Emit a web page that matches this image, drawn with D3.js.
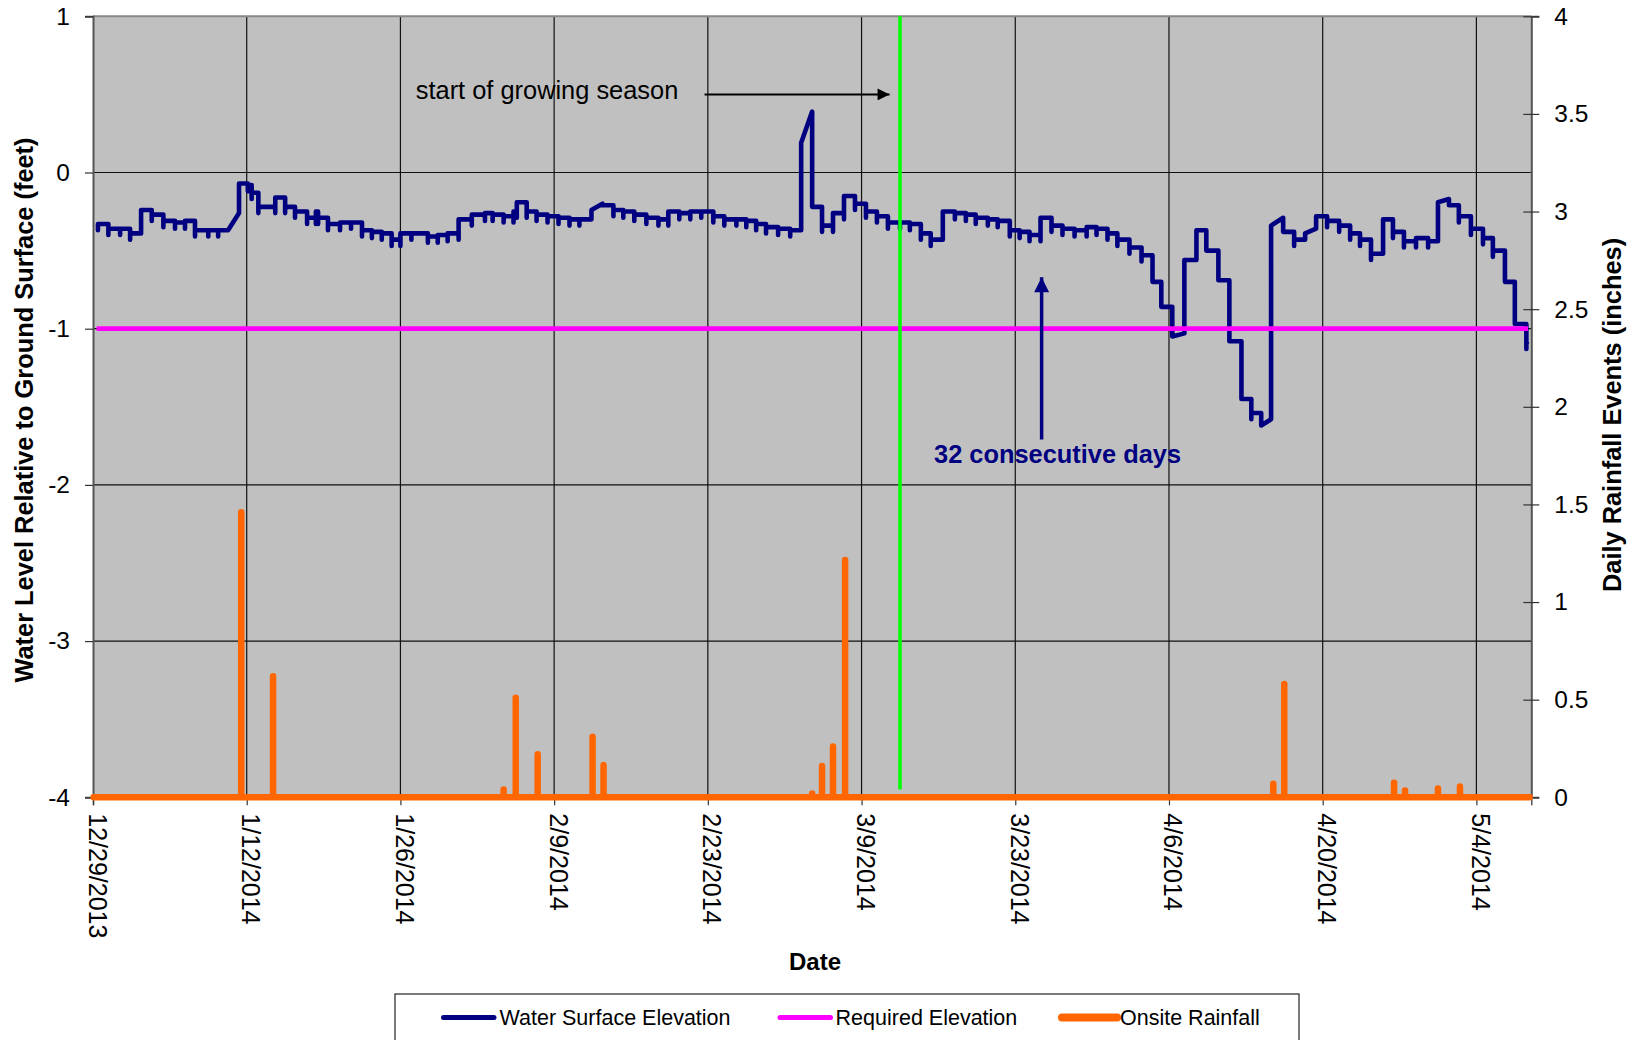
<!DOCTYPE html>
<html><head><meta charset="utf-8">
<script src="https://cdn.jsdelivr.net/npm/d3@7"></script>
<style>
body{margin:0;background:#fff;}
svg{display:block;}
text{font-family:"Liberation Sans",Arial,sans-serif;}
</style>
</head><body>
<svg id="chart" width="1637" height="1040"></svg>
<script>
// ---------------- DATA ----------------
const startDate = "12/29/2013";
const endDate = "5/9/2014";
const xTickLabels = ["12/29/2013","1/12/2014","1/26/2014","2/9/2014","2/23/2014","3/9/2014","3/23/2014","4/6/2014","4/20/2014","5/4/2014"];
const leftTicks = [1,0,-1,-2,-3,-4];
const rightTicks = [0,0.5,1,1.5,2,2.5,3,3.5,4];

// water surface readings: [days after start, level (ft), optional level reached by next reading (ramp)]
const waterReadings = [
 [0.45,-0.33],[1.4,-0.36],[2.47,-0.36],[3.38,-0.39],[4.38,-0.24],[5.35,-0.27],[6.41,-0.31],[7.47,-0.32],
 [8.38,-0.31],[9.29,-0.37],[10.5,-0.37],[11.4,-0.37],[12.3,-0.37,-0.26],[13.3,-0.07],[14.1,-0.08],
 [14.45,-0.13],[15.06,-0.22],[16.6,-0.16],[17.5,-0.22],[18.4,-0.25],[19.5,-0.29],[20.3,-0.25],[20.5,-0.29],
 [21.4,-0.33],[22.5,-0.32],[23.5,-0.32],[24.5,-0.37],[25.4,-0.38],[26.3,-0.39],[27.2,-0.43],[28.0,-0.39],
 [29.0,-0.39],[30.5,-0.41],[31.4,-0.40],[32.3,-0.39],[33.3,-0.30],[34.5,-0.27],[35.7,-0.26],[36.4,-0.27],
 [37.4,-0.28],[38.3,-0.25],[38.6,-0.19],[39.5,-0.25],[40.4,-0.27],[41.4,-0.28],[42.4,-0.29],[43.4,-0.30],
 [44.3,-0.30],[45.4,-0.24,-0.2],[46.4,-0.21],[47.4,-0.24],[48.3,-0.25],[49.3,-0.27],[50.4,-0.29],[51.5,-0.30],
 [52.4,-0.25],[53.4,-0.26],[54.4,-0.25],[55.4,-0.25],[56.5,-0.28],[57.5,-0.30],[58.6,-0.30],[59.5,-0.31],
 [60.4,-0.33],[61.3,-0.35],[62.4,-0.36],[63.5,-0.37],[64.5,0.19,0.39],[65.5,-0.22],[66.4,-0.34],[67.4,-0.26],
 [68.4,-0.15],[69.4,-0.20],[70.4,-0.25],[71.4,-0.28],[72.4,-0.32],[73.5,-0.32],[74.4,-0.33],[75.4,-0.39],
 [76.3,-0.43],[77.4,-0.25],[78.5,-0.26],[79.5,-0.27],[80.4,-0.29],[81.5,-0.30],[82.4,-0.31],[83.5,-0.37],
 [84.4,-0.38],[85.3,-0.40],[86.3,-0.29],[87.3,-0.34],[88.3,-0.36],[89.4,-0.37],[90.5,-0.35],[91.4,-0.36],
 [92.4,-0.39],[93.3,-0.43],[94.4,-0.48],[95.5,-0.53],[96.5,-0.70],[97.3,-0.86],[98.3,-1.05,-1.03],[99.4,-0.56],
 [100.5,-0.37],[101.4,-0.50],[102.5,-0.69],[103.5,-1.08],[104.6,-1.45],[105.5,-1.54],[106.4,-1.62,-1.58],
 [107.3,-0.34,-0.29],[108.4,-0.38],[109.4,-0.43],[110.4,-0.39,-0.36],[111.4,-0.28],[112.4,-0.31],[113.5,-0.34],
 [114.5,-0.39],[115.4,-0.43],[116.4,-0.52],[117.5,-0.30],[118.4,-0.38],[119.4,-0.44],[120.5,-0.42],[121.6,-0.44],
 [122.5,-0.19,-0.17],[123.5,-0.21],[124.4,-0.28],[125.5,-0.36],[126.6,-0.42],[127.5,-0.50],[128.6,-0.70],
 [129.5,-0.97],[130.55,-1.09]
];
const waterEndDay = 130.6;

const requiredElevation = -1;
const requiredSpan = [0.32, 130.7];

// rainfall events: [days after start, inches]
const rainEvents = [
 [13.5,1.46],[16.4,0.62],[37.4,0.04],[38.5,0.51],[40.5,0.22],[45.5,0.31],[46.5,0.165],
 [65.5,0.02],[66.4,0.16],[67.4,0.26],[68.5,1.215],[107.5,0.07],[108.5,0.58],
 [118.5,0.075],[119.5,0.035],[122.5,0.045],[124.5,0.055]
];
const rainSpan = [0.05, 130.85];

const growingSeasonDay = 73.5;
const legendItems = [
 {label:"Water Surface Elevation", color:"#000080", w:5},
 {label:"Required Elevation", color:"#FF00FF", w:5},
 {label:"Onsite Rainfall", color:"#FF6600", w:8}
];

// ---------------- CHART ----------------
const parse = d3.utcParse("%m/%d/%Y");
const t0 = parse(startDate), t1 = parse(endDate);
const dayToDate = d => new Date(t0.getTime() + d*864e5);

const L = 93, R = 1531.3, T = 16.3, B = 797.3;
const x = d3.scaleUtc().domain([t0,t1]).range([L,R]);
const yL = d3.scaleLinear().domain([-4,1]).range([B,T]);
const yR = d3.scaleLinear().domain([0,4]).range([B,T]);
const xd = d => x(dayToDate(d));

const svg = d3.select("#chart");
const FONT = "Liberation Sans, Arial, sans-serif";

svg.append("rect").attr("x",L).attr("y",T).attr("width",R-L).attr("height",B-T).attr("fill","#C0C0C0");

// gridlines
const tickDates = xTickLabels.map(parse);
svg.append("g").selectAll("line").data(leftTicks.filter(v=>v>-4 && v<1)).join("line")
  .attr("x1",L).attr("x2",R).attr("y1",d=>yL(d)).attr("y2",d=>yL(d))
  .attr("stroke","#111").attr("stroke-width",1.2);
svg.append("g").selectAll("line").data(tickDates.slice(1)).join("line")
  .attr("x1",d=>x(d)).attr("x2",d=>x(d)).attr("y1",T).attr("y2",B)
  .attr("stroke","#111").attr("stroke-width",1.2);

// top border
svg.append("line").attr("x1",L).attr("x2",R).attr("y1",T).attr("y2",T).attr("stroke","#888").attr("stroke-width",2);

// left axis
const axL = svg.append("g").attr("transform",`translate(${L},0)`)
  .call(d3.axisLeft(yL).tickValues(leftTicks).tickSize(8).tickPadding(15).tickFormat(d=>String(d)));
axL.select(".domain").attr("stroke","#555").attr("stroke-width",2);
axL.selectAll(".tick line").attr("stroke","#333").attr("stroke-width",1.2);
axL.selectAll(".tick text").attr("font-size",24.5).attr("fill","#000").attr("font-family",FONT);

// right axis
const axR = svg.append("g").attr("transform",`translate(${R},0)`)
  .call(d3.axisRight(yR).tickValues(rightTicks).tickSize(8).tickPadding(15).tickFormat(d=>String(d)));
axR.select(".domain").attr("stroke","#555").attr("stroke-width",2);
axR.selectAll(".tick line").attr("x1",-8).attr("stroke","#333").attr("stroke-width",1.2);
axR.selectAll(".tick text").attr("font-size",24.5).attr("fill","#000").attr("font-family",FONT);

// bottom axis
const axB = svg.append("g").attr("transform",`translate(0,${B})`)
  .call(d3.axisBottom(x).tickValues(tickDates).tickSize(8).tickFormat((d,i)=>xTickLabels[i]));
axB.select(".domain").attr("stroke","#555").attr("stroke-width",1.5);
axB.selectAll(".tick line").attr("stroke","#333").attr("stroke-width",1.2);
axB.selectAll(".tick text")
  .attr("font-size",25).attr("fill","#000").attr("font-family",FONT)
  .attr("text-anchor","start").attr("dy",null).attr("y",null)
  .attr("transform","translate(4,16) rotate(90)").attr("dominant-baseline","central");

// water surface path
const DIP = 0.04;
const wPts = [];
waterReadings.forEach((r,i)=>{
  const [d,v,ramp] = r;
  const next = waterReadings[i+1];
  const dEnd = next ? next[0] : waterEndDay;
  if (i>0) {
    const prev = wPts[wPts.length-1][1];
    const prevRamp = waterReadings[i-1][2] !== undefined;
    if (!prevRamp && ramp===undefined && Math.abs(prev-v) < 0.13) {
      wPts.push([d, Math.min(prev,v)-DIP]);
    }
  } else {
    wPts.push([d, v-DIP]);
  }
  wPts.push([d,v]);
  wPts.push([dEnd, ramp!==undefined ? ramp : v]);
});
const lineL = d3.line().x(p=>xd(p[0])).y(p=>yL(p[1]));
svg.append("path").attr("d",lineL(wPts)).attr("fill","none").attr("stroke","#000080")
  .attr("stroke-width",4.6).attr("stroke-linejoin","round").attr("stroke-linecap","round");

// required elevation (magenta)
svg.append("path").attr("d",lineL([[requiredSpan[0],requiredElevation],[requiredSpan[1],requiredElevation]]))
  .attr("fill","none").attr("stroke","#FF00FF").attr("stroke-width",4.8);

// rainfall (secondary axis)
const rPts = [[rainSpan[0],0]];
rainEvents.forEach(([d,v])=>{ rPts.push([d,0],[d,v],[d,0]); });
rPts.push([rainSpan[1],0]);
svg.append("path").attr("d",d3.line().x(p=>xd(p[0])).y(p=>yR(p[1]))(rPts))
  .attr("fill","none").attr("stroke","#FF6600").attr("stroke-width",6.5)
  .attr("stroke-linejoin","round").attr("stroke-linecap","round");

// growing season line
svg.append("line").attr("x1",xd(growingSeasonDay)).attr("x2",xd(growingSeasonDay))
  .attr("y1",yL(1)).attr("y2",yL(-3.95)).attr("stroke","#00FF00").attr("stroke-width",3.5);

// annotations
const defs = svg.append("defs");
defs.append("marker").attr("id","ahBlack").attr("viewBox","0 0 10 10").attr("refX",10).attr("refY",5)
  .attr("markerWidth",14).attr("markerHeight",12).attr("markerUnits","userSpaceOnUse").attr("orient","auto")
  .append("path").attr("d","M0,0L10,5L0,10Z").attr("fill","#000");
defs.append("marker").attr("id","ahNavy").attr("viewBox","0 0 10 10").attr("refX",10).attr("refY",5)
  .attr("markerWidth",17).attr("markerHeight",15).attr("markerUnits","userSpaceOnUse").attr("orient","auto")
  .append("path").attr("d","M0,0L10,5L0,10Z").attr("fill","#000080");

svg.append("text").attr("x",xd(29.4)).attr("y",yL(0.47)).attr("font-size",25.4).attr("fill","#000")
  .text("start of growing season");
svg.append("line").attr("x1",xd(55.7)).attr("x2",xd(72.55)).attr("y1",yL(0.5)).attr("y2",yL(0.5))
  .attr("stroke","#000").attr("stroke-width",2).attr("marker-end","url(#ahBlack)");

svg.append("line").attr("x1",xd(86.4)).attr("x2",xd(86.4)).attr("y1",yL(-1.71)).attr("y2",yL(-0.67))
  .attr("stroke","#000080").attr("stroke-width",3.5).attr("marker-end","url(#ahNavy)");
svg.append("text").attr("x",xd(76.6)).attr("y",yL(-1.86)).attr("font-size",25.4).attr("font-weight","bold")
  .attr("fill","#000080").text("32 consecutive days");

// axis titles
svg.append("text").attr("transform","translate(24,410) rotate(-90)").attr("text-anchor","middle")
  .attr("dominant-baseline","central").attr("font-size",25.4).attr("font-weight","bold").text("Water Level Relative to Ground Surface (feet)");
svg.append("text").attr("transform","translate(1612,415) rotate(-90)").attr("text-anchor","middle")
  .attr("dominant-baseline","central").attr("font-size",25.4).attr("font-weight","bold").text("Daily Rainfall Events (inches)");
svg.append("text").attr("x",815).attr("y",970).attr("text-anchor","middle").attr("font-size",24)
  .attr("font-weight","bold").text("Date");

// legend
const lg = svg.append("g");
lg.append("rect").attr("x",395).attr("y",994).attr("width",904).attr("height",60)
  .attr("fill","#fff").attr("stroke","#222").attr("stroke-width",1.2);
const legendX = [[443.5,494,499.5],[780,830.5,835.6],[1062,1117,1120]];
legendItems.forEach((it,i)=>{
  const [a,b,tx] = legendX[i];
  lg.append("line").attr("x1",a).attr("x2",b).attr("y1",1017.5).attr("y2",1017.5)
    .attr("stroke",it.color).attr("stroke-width",it.w).attr("stroke-linecap","round");
  lg.append("text").attr("x",tx).attr("y",1025).attr("font-size",21.5).attr("fill","#000").text(it.label);
});
</script>
</body></html>
